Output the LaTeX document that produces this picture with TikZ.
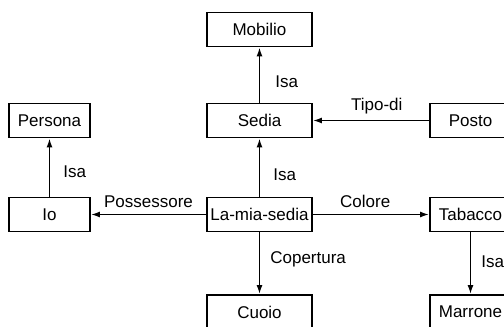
\documentclass[tikz,border=0pt]{standalone}
\usepackage{fontspec}
\setmainfont{Liberation Sans}
\usetikzlibrary{arrows.meta}
\begin{document}
\begin{tikzpicture}[x=1pt,y=-1pt,
 txt/.style={font=\fontsize{17}{17}\selectfont},
 box/.style={draw, line width=1.7pt, minimum height=34pt, inner sep=0pt, txt},
 wide/.style={box, minimum width=105pt},
 narrow/.style={box, minimum width=81pt},
 rel/.style={line width=1.7pt, -{Latex[length=9pt,width=6pt]}},
 lab/.style={txt, inner sep=0pt}]
\useasboundingbox (0,0) rectangle (504,327);
\clip (0,0) rectangle (504,327);
\node[wide] (mob) at (259.5,29.5) {Mobilio};
\node[wide] (sed) at (259.5,120.5) {Sedia};
\node[narrow] (per) at (49.5,120.5) {Persona};
\node[narrow] (pos) at (470.5,120.5) {Posto};
\node[narrow] (io) at (49.5,214.5) {Io};
\node[wide] (mia) at (259.5,214.5) {La-mia-sedia};
\node[narrow] (tab) at (470.5,214.5) {Tabacco};
\node[wide] (cuo) at (259.5,312) {Cuoio};
\node[narrow] (mar) at (470.5,312) {Marrone};
\draw[rel] (sed) -- node[lab, pos=0.37, anchor=west, xshift=15pt] {Isa} (mob);
\draw[rel] (pos) -- node[lab, pos=0.45, anchor=base, yshift=10pt] {Tipo-di} (sed);
\draw[rel] (io) -- node[lab, pos=0.42, anchor=west, xshift=13pt] {Isa} (per);
\draw[rel] (mia) -- node[lab, pos=0.37, anchor=west, xshift=13pt] {Isa} (sed);
\draw[rel] (mia) -- node[lab, pos=0.5, anchor=base, yshift=7pt] {Possessore} (io);
\draw[rel] (mia) -- node[lab, pos=0.45, anchor=base, yshift=7pt] {Colore} (tab);
\draw[rel] (mia) -- node[lab, pos=0.44, anchor=west, xshift=10pt] {Copertura} (cuo);
\draw[rel] (tab) -- node[lab, pos=0.48, anchor=west, xshift=10pt] {Isa} (mar);
\end{tikzpicture}
\end{document}
